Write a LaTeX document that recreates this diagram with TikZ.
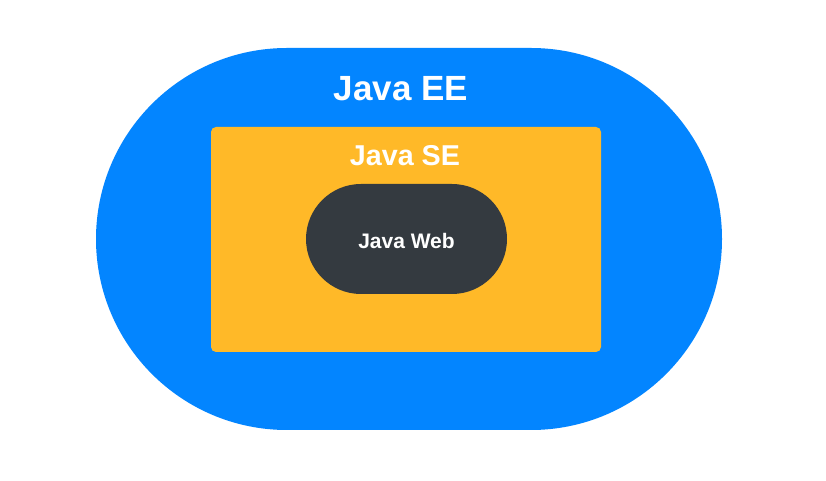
\documentclass[tikz,border=0pt]{standalone}
\usepackage{fontspec}
\setmainfont{Liberation Sans}
\usetikzlibrary{calc}
\definecolor{eeblue}{RGB}{3,133,255}
\definecolor{seorange}{RGB}{255,185,40}
\definecolor{webdark}{RGB}{52,58,64}
\tikzset{
	label text/.style={text=white, font=\bfseries, anchor=base, inner sep=0pt}
}
\begin{document}
\begin{tikzpicture}[x=1pt, y=1pt]
		%%%%% START %%%%%
		\useasboundingbox[fill=white] (0, 0) rectangle (826, 481);
		
		\fill[eeblue, rounded corners=191pt] (96, 51) rectangle (722, 433);
		\node[label text, font=\bfseries\fontsize{35}{40}\selectfont] (ee) at (401, 380) {Java EE};
		
		\fill[seorange, rounded corners=5pt] (211, 129) rectangle (601, 354);
		\node[label text, font=\bfseries\fontsize{28.7}{34}\selectfont] (se) at (405, 315) {Java SE};
		
		\fill[webdark, rounded corners=55pt] (306, 187) rectangle (507, 297);
		\node[label text, font=\bfseries\fontsize{21}{25}\selectfont] (web) at (406.5, 232) {Java Web};
		%%%%% END %%%%%
	\end{tikzpicture}
\end{document}
